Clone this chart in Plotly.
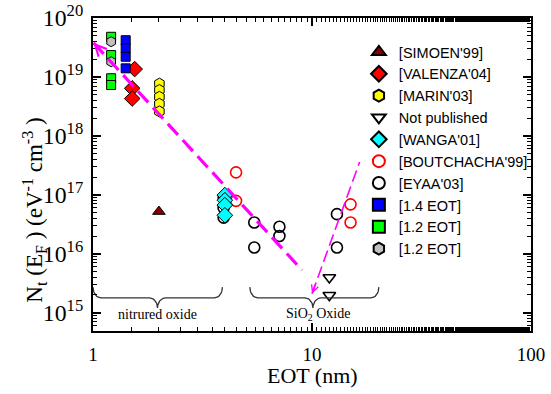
import numpy as np
import plotly.graph_objects as go

# ---------------- data ----------------
simoen_x = [2.0]
simoen_y = [5.2e16]
valenza_x = [1.55, 1.51, 1.51]
valenza_y = [1.36e19, 6.4e18, 4.3e18]
marin_x = [2.01, 2.01, 2.01, 2.01, 2.01]
marin_y = [7.7e18, 6.0e18, 4.6e18, 3.5e18, 2.6e18]
notpub_x = [12.0, 12.0]
notpub_y = [3.96e15, 1.98e15]
wanga_x = [4.0, 4.0, 4.0, 4.0]
wanga_y = [9.9e16, 8.1e16, 6.7e16, 4.5e16]
boutch_x = [4.5, 4.5, 15.0, 15.0]
boutch_y = [2.4e17, 7.9e16, 6.9e16, 3.4e16]
eyaa_x = [3.95, 3.95, 3.95, 5.45, 5.45, 7.1, 7.1, 13.0, 13.0]
eyaa_y = [9.0e16, 6.0e16, 4.1e16, 3.4e16, 1.28e16, 2.87e16, 2.0e16, 4.7e16, 1.28e16]
eot14_x = [1.41, 1.41, 1.41, 1.41]
eot14_y = [4.2e19, 3.06e19, 2.2e19, 1.4e19]
eot12g_x = [1.21, 1.21, 1.21, 1.21]
eot12g_y = [4.8e19, 2.35e19, 9.5e18, 7.3e18]
eot12h_x = [1.21, 1.21]
eot12h_y = [3.96e19, 1.81e19]

# trend lines (head first, tail second)
trend_x = [1.005, 9.0]
trend_y = [3.8e19, 5.3e15]
sio2_x = [10.0, 16.5]
sio2_y = [2.1e15, 3.6e17]

# braces: (start, tip, end) in EOT, and the label
brace_spans = [(1.0, 1.97, 3.9), (5.2, 10.1, 20.2)]
brace_labels = ["nitrured oxide", "SiO<sub>2</sub> Oxide"]
brace_label_x = [1.97, 10.6]
brace_line_y, brace_end_y, brace_tip_y = 15.251, 15.433, 15.081   # log10 units
brace_label_y = 14.97

xtick_vals = [1, 10, 100]

SERIF = "Liberation Serif"
SANS = "Liberation Sans"

W, H = 551, 394
L, R, T, B = 92.5, 19.5, 18, 63
pw, ph = W - L - R, H - T - B

fig = go.Figure()

def add(x, y, name, symbol, color, size, rank, lw=1):
    fig.add_trace(go.Scatter(
        x=x, y=y, mode="markers", name=name, legendrank=rank,
        marker=dict(symbol=symbol, size=size, color=color,
                    line=dict(color="black", width=lw))))

def add_open(x, y, name, symbol, color, size, rank, lw=1.6):
    fig.add_trace(go.Scatter(
        x=x, y=y, mode="markers", name=name, legendrank=rank,
        marker=dict(symbol=symbol, size=size, color="rgba(255,255,255,0)",
                    line=dict(color=color, width=lw))))

# drawing order (later on top); legend order via legendrank
add_open(eyaa_x, eyaa_y, "[EYAA'03]", "circle", "black", 11, 7)
add_open(boutch_x, boutch_y, "[BOUTCHACHA'99]", "circle", "red", 11, 6)
add(simoen_x, simoen_y, "[SIMOEN'99]", "triangle-up", "#8B0000", 11, 1)
add(valenza_x, valenza_y, "[VALENZA'04]", "diamond", "#FF0000", 12, 2)
add(marin_x, marin_y, "[MARIN'03]", "hexagon", "#FFFF00", 11, 3)
add_open(notpub_x, notpub_y, "Not published", "triangle-down", "black", 11, 4)
add(wanga_x, wanga_y, "[WANGA'01]", "diamond", "#00FFFF", 12, 5)
add(eot14_x, eot14_y, "[1.4 EOT]", "square", "#0000FF", 9, 8)
add(eot12g_x, eot12g_y, "[1.2 EOT]", "square", "#00FF00", 9, 9)
add(eot12h_x, eot12h_y, "[1.2 EOT] ", "hexagon", "#C0C0C0", 10, 10)

# magenta trend lines
fig.add_trace(go.Scatter(x=trend_x, y=trend_y, mode="lines", showlegend=False,
                         line=dict(color="#FF00FF", width=3.2, dash="15px,7px")))
fig.add_trace(go.Scatter(x=sio2_x, y=sio2_y, mode="lines", showlegend=False,
                         line=dict(color="#FF00FF", width=1.6, dash="12px,5px")))

# arrowheads
def arrowhead(hx, hy, tx, ty, width, length):
    px = (np.log10(tx) - np.log10(hx)) * pw / 2.0
    py = -(np.log10(ty) - np.log10(hy)) * ph / 5.31
    n = np.hypot(px, py)
    fig.add_annotation(x=np.log10(hx), y=np.log10(hy), xref="x", yref="y",
                       ax=px / n * length, ay=py / n * length, text="",
                       showarrow=True, arrowhead=5, arrowsize=1.0,
                       arrowwidth=width, arrowcolor="#FF00FF", standoff=0)

arrowhead(trend_x[0], trend_y[0], trend_x[1], trend_y[1], 2.2, 12)
arrowhead(sio2_x[0], sio2_y[0], sio2_x[1], sio2_y[1], 1.4, 12)

# braces
def brace(x0, xc, x1):
    u0, uc, u1 = np.log10(x0), np.log10(xc), np.log10(x1)
    dx = 0.036
    h_end = brace_end_y - brace_line_y
    h_tip = brace_line_y - brace_tip_y
    us, vs = [], []
    t = np.linspace(np.pi, 1.5 * np.pi, 12)
    us += list(u0 + dx + dx * np.cos(t)); vs += list(brace_end_y + h_end * np.sin(t))
    t = np.linspace(0.5 * np.pi, 0, 12)
    us += list(uc - dx + dx * np.cos(t)); vs += list(brace_tip_y + h_tip * np.sin(t))
    t = np.linspace(np.pi, 0.5 * np.pi, 12)
    us += list(uc + dx + dx * np.cos(t)); vs += list(brace_tip_y + h_tip * np.sin(t))
    t = np.linspace(1.5 * np.pi, 2 * np.pi, 12)
    us += list(u1 - dx + dx * np.cos(t)); vs += list(brace_end_y + h_end * np.sin(t))
    fig.add_trace(go.Scatter(x=10 ** np.array(us), y=10 ** np.array(vs), mode="lines",
                             showlegend=False, hoverinfo="skip",
                             line=dict(color="#333333", width=1.3)))

for (a, c, b), lab, lx in zip(brace_spans, brace_labels, brace_label_x):
    brace(a, c, b)
    fig.add_annotation(x=np.log10(lx), y=brace_label_y, xref="x", yref="y",
                       text=lab, showarrow=False, xanchor="center", yanchor="middle",
                       font=dict(family=SERIF, size=14, color="black"))

# axis titles (positioned in pixels, converted to paper coords)
fig.add_annotation(x=(312 - L) / pw, y=1 - (375 - T) / ph, xref="paper", yref="paper",
                   text="EOT (nm)", showarrow=False, xanchor="center", yanchor="middle",
                   font=dict(family=SERIF, size=22, color="black"))
fig.add_annotation(x=(33 - L) / pw, y=1 - (210 - T) / ph, xref="paper", yref="paper",
                   text="N<sub>t</sub>&nbsp;(E<sub>F</sub>&nbsp;)&nbsp;(eV<sup>-1</sup>&nbsp;cm<sup>-3</sup>&nbsp;)",
                   textangle=-90, showarrow=False, xanchor="center", yanchor="middle",
                   font=dict(family=SERIF, size=23, color="black"))

axis_common = dict(showline=True, linecolor="black", linewidth=2, mirror="allticks",
                   ticks="inside", ticklen=8, tickwidth=1.5, tickcolor="black",
                   showgrid=False, zeroline=False, automargin=False,
                   minor=dict(ticks="inside", ticklen=4, tickwidth=1.2, tickcolor="black",
                              showgrid=False))

fig.update_xaxes(type="log", range=[0, 2], tickvals=xtick_vals,
                 ticktext=[str(v) for v in xtick_vals],
                 tickfont=dict(family=SERIF, size=19, color="black"),
                 ticklabelstandoff=5, **axis_common)
fig.update_yaxes(type="log", range=[14.69, 20], dtick=1, exponentformat="power",
                 tickfont=dict(family=SERIF, size=19, color="black"),
                 ticklabelstandoff=4, **axis_common)

fig.update_layout(
    template="none",
    width=W, height=H,
    margin=dict(l=L, r=R, t=T, b=B, pad=0, autoexpand=False),
    plot_bgcolor="white", paper_bgcolor="white",
    showlegend=True,
    legend=dict(x=0.607, y=0.9425, xanchor="left", yanchor="top",
                bgcolor="rgba(0,0,0,0)", borderwidth=0,
                font=dict(family=SANS, size=14.5, color="black"),
                itemsizing="constant"),
)

fig.write_html("out.html")
